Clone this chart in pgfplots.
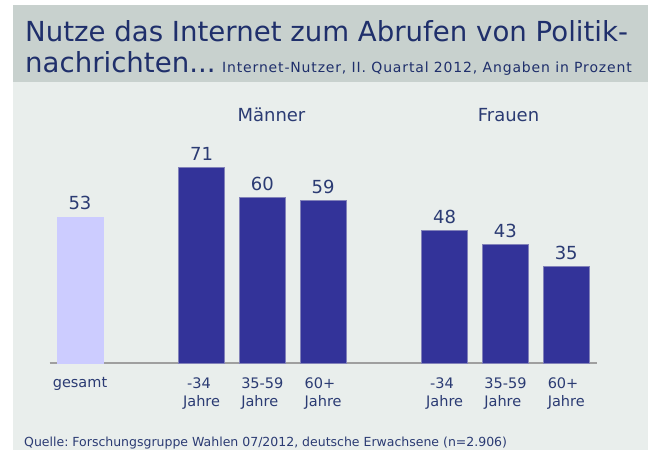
\documentclass[border=0pt]{standalone}
\usepackage{pgfplots}
\pgfplotsset{compat=1.18}
\usepackage{fontspec}
\setmainfont{DejaVu Sans}
\frenchspacing
\definecolor{titlec}{HTML}{1F2F6B}
\definecolor{labc}{HTML}{2B3B73}
\definecolor{darkbar}{HTML}{333399}
\definecolor{lightbar}{HTML}{CCCCFF}
\definecolor{headerc}{HTML}{C8D1CE}
\definecolor{panelc}{HTML}{E9EEEC}
\begin{document}
\begin{tikzpicture}[x=1pt,y=1pt]
\clip (0,0) rectangle (654,450);
\fill[white] (0,0) rectangle (654,450);
\fill[panelc] (13,-5) rectangle (648,445);
\fill[headerc] (13,368) rectangle (648,445);
\node[anchor=base west, inner sep=0pt, text=titlec, font=\fontsize{27.6}{30}\selectfont] at (25,408) {Nutze das Internet zum Abrufen von Politik-};
\node[anchor=base west, inner sep=0pt, text=titlec, font=\fontsize{27.6}{30}\selectfont] at (25,377) {nachrichten...};
\node[anchor=base west, inner sep=0pt, text=titlec, font=\fontsize{14}{15}\selectfont\addfontfeature{LetterSpace=6}] at (222,377) {Internet-Nutzer, II. Quartal 2012, Angaben in Prozent};
\begin{axis}[
  at={(80pt,87pt)}, anchor=origin,
  scale only axis, width=547pt, height=275.5pt,
  xmin=-0.5, xmax=8.5, ymin=0, ymax=100,
  axis x line*=bottom, axis y line=none,
  x axis line style={-, draw=gray!75, line width=1.2pt},
  xtick={0,2,3,4,6,7,8},
  xticklabels={gesamt,{\hspace{4pt}-34\\Jahre},{35-59\\Jahre},{60+\\Jahre},{\hspace{4pt}-34\\Jahre},{35-59\\Jahre},{60+\\Jahre}},
  xtick style={draw=none},
  major tick length=0pt,
  xticklabel style={anchor=north, align=left, inner sep=0pt, yshift=-14.5pt, text=labc, font=\fontsize{14.5}{18}\selectfont},
  ytick=\empty,
  clip=false,
  nodes near coords,
  /pgf/number format/assume math mode=true,
  every node near coord/.append style={anchor=base, yshift=7pt, inner sep=0pt, text=labc, font=\fontsize{18}{20}\selectfont},
]
\addplot[ybar, bar width=46pt, bar shift=0pt, fill=lightbar, draw=lightbar] coordinates {(0,53)};
\addplot[ybar, bar width=46pt, bar shift=0pt, fill=darkbar, draw={rgb,255:red,130;green,130;blue,185}, line width=0.7pt] coordinates {(2,71) (3,60) (4,59) (6,48) (7,43) (8,35)};
\node[anchor=base, text=labc, font=\fontsize{18}{20}\selectfont, inner sep=0pt] at (axis cs:3.15,87.5) {Männer};
\node[anchor=base, text=labc, font=\fontsize{18}{20}\selectfont, inner sep=0pt] at (axis cs:7.05,87.5) {Frauen};
\end{axis}
\node[anchor=base west, inner sep=0pt, text=labc, font=\fontsize{12.5}{14}\selectfont] at (24,3.5) {Quelle: Forschungsgruppe Wahlen 07/2012, deutsche Erwachsene (n=2.906)};
\end{tikzpicture}
\end{document}
